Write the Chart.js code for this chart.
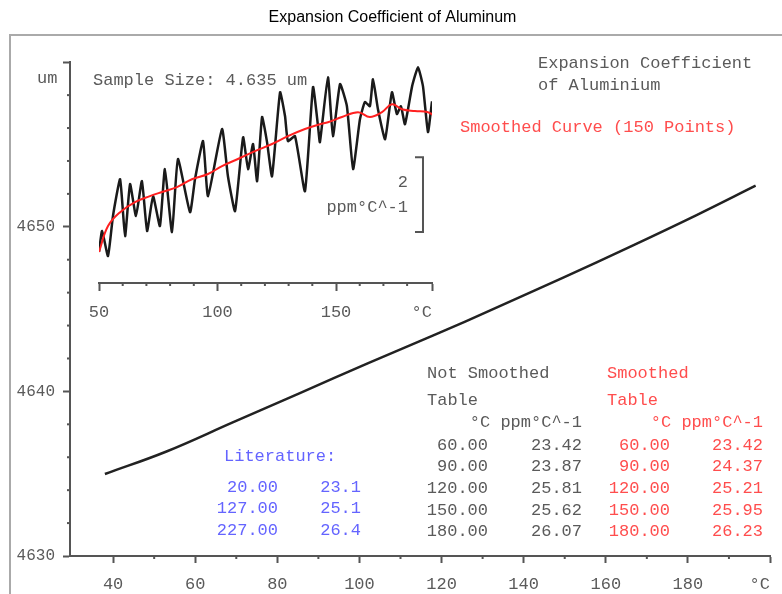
<!DOCTYPE html>
<html>
<head>
<meta charset="utf-8">
<title>Expansion Coefficient of Aluminum</title>
<script src="https://cdn.jsdelivr.net/npm/chart.js@4.4.0/dist/chart.umd.min.js"></script>
<style>
  body { margin: 0; background: #fff; }
  #wrap { position: relative; width: 782px; height: 594px; overflow: hidden; }
  #frame { position: absolute; left: 9px; top: 34px; width: 800px; height: 600px;
           border-left: 2px solid #aaa; border-top: 2px solid #aaa; }
  #main { position: absolute; left: 0; top: 0; }
  #inset { position: absolute; left: 59px; top: 52px; }
</style>
</head>
<body>
<div id="wrap">
  <div id="frame"></div>
  <canvas id="main" width="782" height="594"></canvas>
  <canvas id="inset" width="413" height="271"></canvas>
</div>
<script>
// main curve: sample length (um) against temperature (°C)
var tempC = [38, 53, 69, 85.5, 102, 118, 133.5, 149.5, 166, 182, 196.5];
var lengthUm = [4634.98, 4636.35, 4638.1, 4639.9, 4641.7, 4643.4, 4645.1, 4646.9, 4648.8, 4650.7, 4652.5];

// inset: expansion coefficient (ppm/°C), raw and smoothed
var rawT = [50.0, 51.3, 53.8, 55.9, 58.9, 61.0, 63.1, 65.6, 68.1, 70.3, 72.8, 75.7, 77.8, 80.8, 83.3, 88.4,
            90.5, 93.9, 96.0, 101.9, 104.4, 107.4, 110.8, 112.9, 115.0, 116.7, 118.8, 120.9, 123.0, 126.4,
            128.5, 129.7, 132.7, 136.9, 140.3, 142.4, 143.2, 146.6, 148.7, 151.7, 154.6, 157.2, 160.1,
            162.2, 164.3, 165.6, 167.7, 170.7, 173.6, 175.7, 177.4, 179.1, 182.1, 184.6, 186.7, 188.8, 190.5];
var rawCoef = [22.33, 22.89, 22.22, 23.29, 24.27, 22.75, 24.14, 23.29, 24.22, 22.89, 23.82, 23.02, 24.54, 22.86,
               24.81, 23.39, 24.27, 25.29, 23.82, 25.61, 24.35, 23.42, 25.39, 24.54, 25.21, 24.22, 25.93,
               25.26, 24.35, 26.59, 25.95, 25.29, 25.42, 23.95, 26.73, 25.69, 25.26, 26.99, 25.42, 26.81,
               26.22, 24.54, 25.87, 26.33, 26.22, 26.94, 26.14, 25.34, 26.59, 26.01, 26.22, 25.74, 26.75,
               27.26, 26.75, 25.53, 26.35];
var smoothT = [50.0, 53.8, 58.9, 65.2, 71.5, 76.6, 82.9, 89.2, 96.0, 101.9, 108.6, 115.8, 123.0, 129.7,
               136.9, 143.2, 146.6, 152.5, 159.3, 164.3, 169.4, 173.6, 177.8, 183.3, 188.8, 191.8];
var smoothCoef = [22.33, 23.02, 23.39, 23.66, 23.82, 23.93, 24.06, 24.27, 24.41, 24.62, 24.81, 25.02, 25.21,
                  25.42, 25.61, 25.74, 25.79, 25.93, 26.06, 25.93, 26.06, 26.27, 26.14, 26.09, 26.06, 25.95];

// tables printed on the chart
var tableT = ['60.00', '90.00', '120.00', '150.00', '180.00'];
var rawTable = ['23.42', '23.87', '25.81', '25.62', '26.07'];
var smoothTable = ['23.42', '24.37', '25.21', '25.95', '26.23'];
var litT = ['20.00', '127.00', '227.00'];
var litCoef = ['23.1', '25.1', '26.4'];

// ticks
var mainXTicks = [40, 60, 80, 100, 120, 140, 160, 180, 200];
var mainXMinor = [50, 70, 90, 110, 130, 150, 170, 190];
var mainYMinor = [4632, 4634, 4636, 4638, 4642, 4644, 4646, 4648, 4652, 4654, 4656, 4658];
var insetXTicks = [50, 100, 150, 190.5];
var insetXMinor = [60, 70, 80, 90, 110, 120, 130, 140, 160, 170, 180];

var AXIS = '#555';
var GRAY = '#5a5a5a';
var RED = '#ff4d4d';
var BLUE = '#6464ff';
var MONO = "'Liberation Mono', 'DejaVu Sans Mono', monospace";

function pts(xs, ys) {
    return xs.map(function (x, i) { return { x: x, y: ys[i] }; });
}

var minorTicks = {
    id: 'minorTicks',
    afterDraw: function (chart, args, opts) {
        var ctx = chart.ctx, area = chart.chartArea;
        ctx.save();
        ctx.strokeStyle = AXIS;
        ctx.lineWidth = 2;
        (opts.x || []).forEach(function (v) {
            var px = chart.scales.x.getPixelForValue(v);
            ctx.beginPath(); ctx.moveTo(px, area.bottom); ctx.lineTo(px, area.bottom + 3); ctx.stroke();
        });
        (opts.y || []).forEach(function (v) {
            var py = chart.scales.y.getPixelForValue(v);
            ctx.beginPath(); ctx.moveTo(area.left, py); ctx.lineTo(area.left - 3, py); ctx.stroke();
        });
        ctx.restore();
    }
};

var notes = {
    id: 'notes',
    afterDraw: function (chart) {
        var ctx = chart.ctx;
        ctx.save();
        ctx.font = '17px ' + MONO;
        ctx.textBaseline = 'middle';
        function put(t, x, y, c, a) {
            ctx.fillStyle = c;
            ctx.textAlign = a || 'left';
            ctx.fillText(t, x, y);
        }
        put('um', 37, 78, GRAY);
        put('Sample Size: 4.635 um', 93, 80, GRAY);
        put('Expansion Coefficient', 538, 63, GRAY);
        put('of Aluminium', 538, 85, GRAY);
        put('Smoothed Curve (150 Points)', 460, 127, RED);
        put('2', 408, 182, GRAY, 'right');
        put('ppm°C^-1', 408, 207, GRAY, 'right');
        put('Not Smoothed', 427, 373, GRAY);
        put('Table', 427, 400, GRAY);
        put('°C ppm°C^-1', 582, 422, GRAY, 'right');
        put('Smoothed', 607, 373, RED);
        put('Table', 607, 400, RED);
        put('°C ppm°C^-1', 763, 422, RED, 'right');
        tableT.forEach(function (t, i) {
            var y = 445 + i * 21.7;
            put(t, 488, y, GRAY, 'right');
            put(rawTable[i], 582, y, GRAY, 'right');
            put(t, 670, y, RED, 'right');
            put(smoothTable[i], 763, y, RED, 'right');
        });
        put('Literature:', 224, 456, BLUE);
        litT.forEach(function (t, i) {
            var y = 487 + i * 21.5;
            put(t, 278, y, BLUE, 'right');
            put(litCoef[i], 361, y, BLUE, 'right');
        });
        ctx.restore();
    }
};

// 2 ppm scale bar of the inset
var barT = 186.7, barLo = 22.86, barHi = 24.86;
var scaleBar = {
    id: 'scaleBar',
    afterDraw: function (chart) {
        var ctx = chart.ctx;
        var x = chart.scales.x.getPixelForValue(barT);
        var y0 = chart.scales.y.getPixelForValue(barLo);
        var y1 = chart.scales.y.getPixelForValue(barHi);
        ctx.save();
        ctx.strokeStyle = AXIS;
        ctx.lineWidth = 2;
        ctx.beginPath();
        ctx.moveTo(x - 8, y1); ctx.lineTo(x, y1); ctx.lineTo(x, y0); ctx.lineTo(x - 8, y0);
        ctx.stroke();
        ctx.restore();
    }
};

var mainChart = new Chart(document.getElementById('main'), {
    type: 'line',
    data: {
        datasets: [{
            data: pts(tempC, lengthUm),
            borderColor: '#222',
            borderWidth: 2.5,
            pointRadius: 0,
            tension: 0.4,
            fill: false
        }]
    },
    options: {
        responsive: false,
        animation: false,
        events: [],
        layout: { padding: { left: 15, right: 12, top: 0, bottom: 0 } },
        plugins: {
            legend: { display: false },
            tooltip: { enabled: false },
            title: {
                display: true,
                text: 'Expansion Coefficient of Aluminum',
                color: '#000',
                font: { family: "'Liberation Sans', Arial, sans-serif", size: 16, weight: 'normal' },
                padding: { top: 8, bottom: 35 }
            },
            minorTicks: { x: mainXMinor, y: mainYMinor }
        },
        scales: {
            x: {
                type: 'linear',
                min: 29.5,
                max: 200,
                afterBuildTicks: function (s) { s.ticks = mainXTicks.map(function (v) { return { value: v }; }); },
                afterFit: function (s) { s.height = 38; s.paddingLeft = 0; s.paddingRight = 0; },
                ticks: {
                    autoSkip: false,
                    maxRotation: 0,
                    padding: 11,
                    color: GRAY,
                    font: { family: MONO, size: 17 },
                    callback: function (v) { return v === 200 ? '°C  ' : v; }
                },
                grid: { drawOnChartArea: false, tickLength: 7, tickColor: AXIS, tickWidth: 2 },
                border: { color: AXIS, width: 2 }
            },
            y: {
                min: 4630,
                max: 4660,
                afterFit: function (s) { s.width = 55; s.paddingTop = 0; s.paddingBottom = 0; },
                ticks: {
                    stepSize: 10,
                    padding: 8,
                    color: GRAY,
                    font: { family: MONO, size: 16 },
                    callback: function (v) { return v === 4660 ? '' : v; }
                },
                grid: { drawOnChartArea: false, tickLength: 7, tickColor: AXIS, tickWidth: 2 },
                border: { color: AXIS, width: 2 }
            }
        }
    },
    plugins: [minorTicks, notes]
});

var insetChart = new Chart(document.getElementById('inset'), {
    type: 'line',
    data: {
        datasets: [{
            data: pts(smoothT, smoothCoef),
            borderColor: '#ff2020',
            borderWidth: 2,
            pointRadius: 0,
            tension: 0.4,
            fill: false
        }, {
            data: pts(rawT, rawCoef),
            borderColor: '#1a1a1a',
            borderWidth: 2.5,
            pointRadius: 0,
            tension: 0.15,
            fill: false
        }]
    },
    options: {
        responsive: false,
        animation: false,
        events: [],
        layout: { padding: { left: 40, right: 40, top: 10, bottom: 0 } },
        plugins: {
            legend: { display: false },
            tooltip: { enabled: false },
            minorTicks: { x: insetXMinor }
        },
        scales: {
            x: {
                type: 'linear',
                min: 50,
                max: 190.5,
                afterBuildTicks: function (s) { s.ticks = insetXTicks.map(function (v) { return { value: v }; }); },
                afterFit: function (s) { s.height = 40; s.paddingLeft = 0; s.paddingRight = 0; },
                ticks: {
                    autoSkip: false,
                    maxRotation: 0,
                    padding: 11,
                    color: GRAY,
                    font: { family: MONO, size: 17 },
                    callback: function (v) { return v === 190.5 ? '°C  ' : v; }
                },
                grid: { drawOnChartArea: false, tickLength: 8, tickColor: AXIS, tickWidth: 2 },
                border: { color: AXIS, width: 2 }
            },
            y: { display: false, min: 21.5, max: 27.4 }
        }
    },
    plugins: [minorTicks, scaleBar]
});
</script>
</body>
</html>
